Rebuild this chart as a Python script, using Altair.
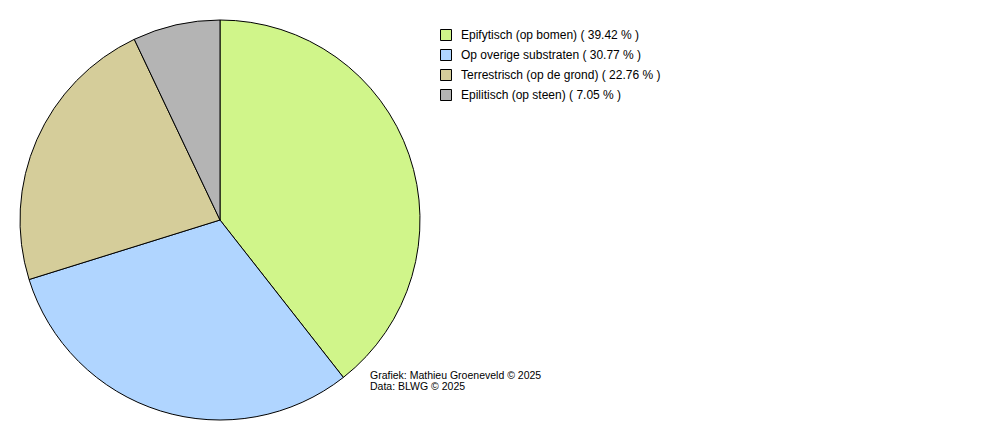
import altair as alt
import pandas as pd

labels = ["Epifytisch (op bomen)", "Op overige substraten", "Terrestrisch (op de grond)", "Epilitisch (op steen)"]
values = [39.42, 30.77, 22.76, 7.05]
colors = ["#d0f58a", "#b0d5ff", "#d5cd9a", "#b4b4b4"]
credits = ["Grafiek: Mathieu Groeneveld © 2025", "Data: BLWG © 2025"]

legend_labels = [f"{l} ( {v:.2f} % )" for l, v in zip(labels, values)]
df = pd.DataFrame({"label": legend_labels, "value": values, "order": list(range(len(values)))})

pie = alt.Chart(df).mark_arc(outerRadius=200, stroke="black", strokeWidth=1).encode(
    theta=alt.Theta("value:Q", stack=True),
    order=alt.Order("order:Q"),
    x=alt.value(212),
    y=alt.value(212),
    color=alt.Color(
        "label:N",
        sort=legend_labels,
        scale=alt.Scale(domain=legend_labels, range=colors),
        legend=alt.Legend(
            title=None,
            orient="none",
            legendX=432,
            legendY=21,
            symbolType="square",
            symbolSize=121,
            symbolStrokeColor="black",
            symbolStrokeWidth=1,
            symbolOpacity=1,
            labelFont="Liberation Sans",
            labelFontSize=12,
            labelColor="black",
            labelOffset=9,
            rowPadding=4,
            padding=0,
            labelLimit=400,
        ),
    ),
)

cdf = pd.DataFrame({"t": credits, "i": [0, 1]})
txt = alt.Chart(cdf).mark_text(
    align="left", baseline="middle", font="Liberation Sans", fontSize=10.5, color="black"
).encode(
    x=alt.value(362),
    y=alt.Y("i:Q", axis=None, scale=alt.Scale(domain=[0, 1], range=[368, 379])),
    text="t:N",
)

chart = alt.layer(pie, txt).properties(
    width=984, height=424, padding=0, autosize=alt.AutoSizeParams(type="none")
).configure_view(stroke=None)

chart.save("out.html", embed_options={"renderer": "svg", "actions": False})
